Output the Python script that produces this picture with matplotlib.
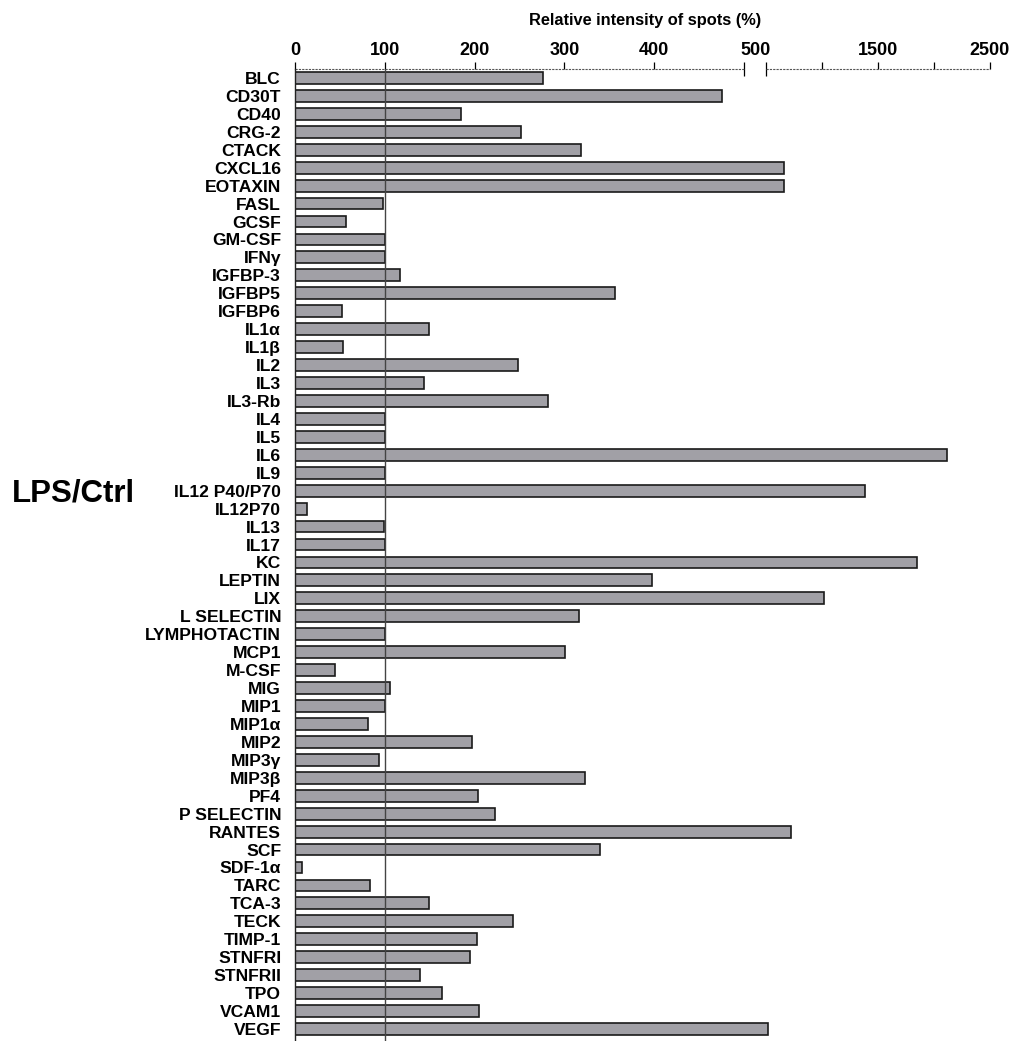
import numpy as np
import matplotlib
matplotlib.use('Agg')
from matplotlib import pyplot as plt

plt.rcParams['font.family'] = ['Liberation Sans', 'DejaVu Sans']
plt.rcParams['font.weight'] = 'bold'

cytokines = ['BLC', 'CD30T', 'CD40', 'CRG-2', 'CTACK', 'CXCL16', 'EOTAXIN', 'FASL', 'GCSF',
             'GM-CSF', 'IFNγ', 'IGFBP-3', 'IGFBP5', 'IGFBP6', 'IL1α', 'IL1β', 'IL2', 'IL3',
             'IL3-Rb', 'IL4', 'IL5', 'IL6', 'IL9', 'IL12 P40/P70', 'IL12P70', 'IL13', 'IL17',
             'KC', 'LEPTIN', 'LIX', 'L SELECTIN', 'LYMPHOTACTIN', 'MCP1', 'M-CSF', 'MIG',
             'MIP1', 'MIP1α', 'MIP2', 'MIP3γ', 'MIP3β', 'PF4', 'P SELECTIN', 'RANTES', 'SCF',
             'SDF-1α', 'TARC', 'TCA-3', 'TECK', 'TIMP-1', 'STNFRI', 'STNFRII', 'TPO', 'VCAM1',
             'VEGF']
intensity = [276, 476, 185, 252, 318, 663, 664, 98, 57,
             100, 100, 117, 356, 52, 149, 54, 248, 144,
             282, 100, 100, 2120, 100, 1385, 13, 99, 100,
             1850, 398, 1020, 316, 100, 301, 44, 106,
             100, 81, 197, 94, 323, 204, 223, 726, 340,
             8, 84, 149, 243, 203, 195, 139, 164, 205,
             520]

x_major = [0, 100, 200, 300, 400, 1000, 1500, 2000, 2500]
x_major_labels = ['0', '100', '200', '300', '400', '', '1500', '', '2500']

# broken axis: 0-500 linear, small gap, then 500-2500 compressed
BREAK = 500
GAP = 24.5
K = 0.1247


def fwd(x):
    x = np.asarray(x, dtype=float)
    return np.where(x <= BREAK, x, BREAK + GAP + (x - BREAK) * K)


def inv(y):
    y = np.asarray(y, dtype=float)
    return np.where(y <= BREAK, y,
                    np.where(y < BREAK + GAP, BREAK, BREAK + (y - BREAK - GAP) / K))


fig = plt.figure(figsize=(10.12, 10.41), dpi=100)
ax = fig.add_axes([295 / 1012, 0.0, 695 / 1012, 1 - 69 / 1041])
ax.set_xscale('function', functions=(fwd, inv))

ypos = np.arange(len(cytokines))
ax.barh(ypos, intensity, height=0.66, color='#a1a0a6', edgecolor='#1a1a1a', linewidth=1.2, zorder=2)
ax.axvline(100, color='#444444', lw=1.0, zorder=3)

ax.set_xlim(0, 2500)
ax.set_ylim(53.67, -0.5)

ax.set_yticks(ypos, labels=cytokines)
ax.tick_params(axis='y', length=0, pad=10, labelsize=12.6)

ax.xaxis.tick_top()
ax.set_xticks(x_major, labels=x_major_labels)
ax.set_xticks([BREAK, BREAK + 0.01], minor=True)
ax.tick_params(axis='x', which='major', direction='out', length=5, width=0.9, pad=2, labelsize=13)
ax.tick_params(axis='x', which='minor', direction='inout', length=10, width=0.9)
ax.annotate('500', xy=(BREAK, 1), xycoords=('data', 'axes fraction'), xytext=(8, 7),
            textcoords='offset points', ha='center', va='bottom', fontsize=13, fontweight='bold')

for s in ['top', 'right', 'bottom']:
    ax.spines[s].set_visible(False)
ax.spines['left'].set_linewidth(1.0)
ax.spines['left'].set_color('#222222')

# dotted axis line in two pieces around the break
xt = ax.get_xaxis_transform()
ax.plot([0, BREAK], [1, 1], transform=xt, color='#555555', lw=0.8, ls=(0, (2, 1)), clip_on=False)
ax.plot([BREAK + 0.01, 2500], [1, 1], transform=xt, color='#555555', lw=0.8, ls=(0, (2, 1)), clip_on=False)

fig.text(645 / 1012, 1 - 20 / 1041, 'Relative intensity of spots (%)', ha='center', va='center',
         fontsize=11.8, fontweight='bold')
fig.text(12 / 1012, 1 - 493 / 1041, 'LPS/Ctrl', ha='left', va='center', fontsize=22.5, fontweight='bold')

fig.savefig('out.png', dpi=100)
